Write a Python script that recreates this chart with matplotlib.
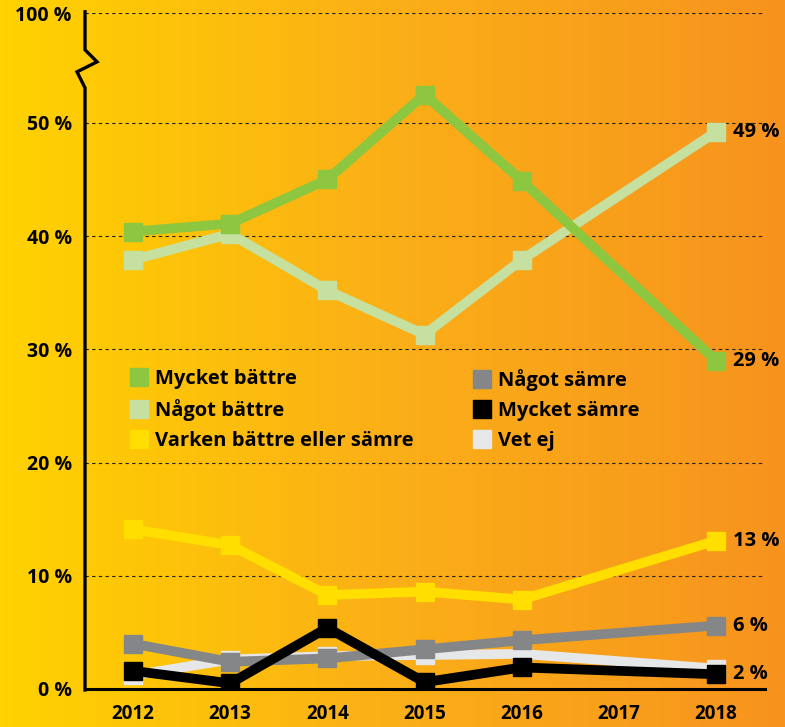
import numpy as np
import matplotlib.pyplot as plt
from matplotlib.lines import Line2D
from matplotlib.colors import LinearSegmentedColormap

plt.rcParams['font.family'] = ['Open Sans', 'DejaVu Sans']
plt.rcParams['font.weight'] = 'bold'

years = [2012, 2013, 2014, 2015, 2016, 2018]
year_ticks = [2012, 2013, 2014, 2015, 2016, 2017, 2018]

mycket_battre = [40.4, 41.1, 45.0, 52.5, 44.9, 29.0]
nagot_battre = [37.9, 40.2, 35.2, 31.3, 37.9, 49.2]
varken = [14.1, 12.7, 8.3, 8.6, 7.9, 13.1]
nagot_samre = [4.0, 2.4, 2.7, 3.5, 4.3, 5.6]
mycket_samre = [1.6, 0.5, 5.4, 0.6, 1.9, 1.3]
vet_ej = [1.2, 2.6, 2.9, 3.0, 3.1, 1.8]

end_map = {'Mycket bättre': '29 %', 'Något bättre': '49 %',
           'Varken bättre eller sämre': '13 %', 'Något sämre': '6 %',
           'Mycket sämre': '2 %', 'Vet ej': ''}

series = [
    ('Vet ej', vet_ej, '#E6E7E8'),
    ('Något sämre', nagot_samre, '#858688'),
    ('Mycket sämre', mycket_samre, '#000000'),
    ('Varken bättre eller sämre', varken, '#FFDE00'),
    ('Något bättre', nagot_battre, '#C5E09F'),
    ('Mycket bättre', mycket_battre, '#8DC63F'),
]

yticks = [0, 10, 20, 30, 40, 50]
top = 59.7  # where the "100 %" tick sits after the axis break

fig = plt.figure(figsize=(7.85, 7.27), dpi=100)

# gradient background
bg = fig.add_axes([0, 0, 1, 1], zorder=-10)
cmap = LinearSegmentedColormap.from_list('bg', ['#FFD200', '#FBAF17', '#F7931E'])
bg.imshow(np.linspace(0, 1, 256).reshape(1, -1), aspect='auto', cmap=cmap,
          extent=[0, 1, 0, 1])
bg.axis('off')

ax = fig.add_axes([0.1083, 0.0523, 0.8662, 0.9298])
ax.patch.set_alpha(0)
ax.set_xlim(2011.506, 2018.504)
ax.set_ylim(0, top)

for s in ['top', 'right', 'left']:
    ax.spines[s].set_visible(False)
ax.spines['bottom'].set_linewidth(2.2)

# gridlines
for v in yticks[1:] + [top]:
    ax.axhline(v, color='#222222', lw=0.8, ls=(0, (3, 3)), zorder=1)

# left axis with break
px = lambda p: 2011.506 + (p - 85) / 97.17
py = lambda p: (689 - p) / 11.32
ax.plot([px(85), px(85), px(97), px(77), px(85), px(85)],
        [py(12), py(50), py(62), py(72), py(88), py(690)],
        color='black', lw=2.4, clip_on=False, zorder=5, solid_joinstyle='miter')

for name, vals, col in series:
    ax.plot(years, vals, color=col, lw=7, marker='s', ms=13, zorder=3)

ax.set_yticks(yticks + [top])
ax.set_yticklabels([f'{v} %' for v in yticks] + ['100 %'], fontsize=14,
                   fontweight='bold')
ax.set_xticks(year_ticks)
ax.set_xticklabels([str(y) for y in year_ticks], fontsize=13.5, fontweight='bold')
ax.tick_params(axis='both', length=0)
ax.tick_params(axis='y', pad=9.5)
ax.tick_params(axis='x', pad=11)

for name, vals, col in series:
    lab = end_map[name]
    if lab:
        ax.annotate(lab, (years[-1], vals[-1]), xytext=(12, 0),
                    textcoords='offset points', va='center', ha='left',
                    fontsize=14.5, fontweight='bold', annotation_clip=False)

colors = {n: c for n, _, c in series}
order = ['Mycket bättre', 'Något bättre', 'Varken bättre eller sämre',
         'Något sämre', 'Mycket sämre', 'Vet ej']


def make_legend(names, anchor):
    handles = [Line2D([], [], marker='s', ls='none', ms=12.5, color=colors[n],
                      label=n) for n in names]
    leg = ax.legend(handles=handles, loc='upper left', bbox_to_anchor=anchor,
                    frameon=False, handlelength=0.8, handletextpad=0.4,
                    labelspacing=0.5, borderpad=0, borderaxespad=0,
                    prop={'size': 14.5, 'weight': 'bold'})
    return leg


leg1 = make_legend(order[:3], (0.068, 0.474))
ax.add_artist(leg1)
make_legend(order[3:], (0.572, 0.474))

fig.savefig('out.png', dpi=100)
